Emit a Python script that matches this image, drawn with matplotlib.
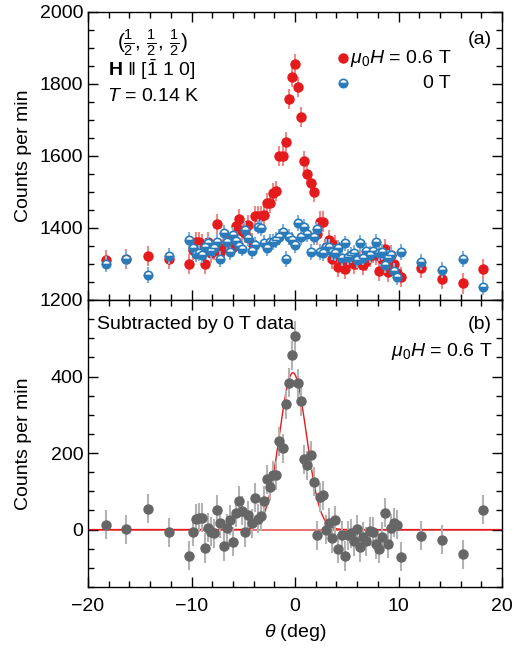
import numpy as np
import matplotlib
matplotlib.use('Agg')
import matplotlib.pyplot as plt
from matplotlib.ticker import MultipleLocator, FixedLocator

plt.rcParams['font.family'] = ['Liberation Sans', 'DejaVu Sans']
plt.rcParams['mathtext.fontset'] = 'custom'
plt.rcParams['mathtext.rm'] = 'Liberation Sans'
plt.rcParams['mathtext.it'] = 'Liberation Sans:italic'
plt.rcParams['mathtext.bf'] = 'Liberation Sans:bold'
plt.rcParams['font.size'] = 14

# scattering angle (deg)
theta = [-18.3, -16.3, -14.2, -12.2,
         -10.2, -9.9, -9.6, -9.3, -9.0, -8.7, -8.4, -8.1, -7.8, -7.5,
         -7.2, -6.9, -6.6, -6.3, -6.0, -5.7, -5.4, -5.1, -4.8, -4.5,
         -4.2, -3.9, -3.6, -3.3, -3.0, -2.7, -2.4, -2.1, -1.8, -1.5,
         -1.2, -0.9, -0.6, -0.3, 0.0, 0.3, 0.6, 0.9, 1.2, 1.5,
         1.8, 2.1, 2.4, 2.7, 3.0, 3.3, 3.6, 3.9, 4.2, 4.5,
         4.8, 5.1, 5.4, 5.7, 6.0, 6.3, 6.6, 6.9, 7.2, 7.5,
         7.8, 8.1, 8.4, 8.7, 9.0, 9.3, 9.6, 9.9, 10.2,
         12.2, 14.2, 16.2, 18.2]

# mu0H = 0.6 T
counts_06T = [1311, 1314, 1323, 1314,
              1299, 1339, 1360, 1362, 1356, 1299, 1362, 1331, 1339, 1411,
              1332, 1344, 1367, 1357, 1348, 1406, 1424, 1391, 1387, 1408,
              1357, 1434, 1434, 1434, 1436, 1470, 1470, 1498, 1503, 1600,
              1600, 1638, 1758, 1820, 1855, 1792, 1708, 1586, 1549, 1526,
              1500, 1382, 1418, 1418, 1348, 1367, 1313, 1353, 1291, 1300,
              1287, 1306, 1316, 1300, 1311, 1312, 1297, 1308, 1321, 1330,
              1324, 1281, 1313, 1341, 1278, 1325, 1299, 1276, 1263,
              1288, 1258, 1246, 1286]

# 0 T
counts_0T = [1299, 1313, 1269, 1322,
             1367, 1345, 1328, 1330, 1325, 1348, 1357, 1336, 1345, 1360,
             1313, 1387, 1362, 1333, 1381, 1364, 1350, 1343, 1394, 1371,
             1336, 1353, 1404, 1399, 1359, 1344, 1362, 1362, 1367, 1374,
             1388, 1314, 1376, 1367, 1353, 1413, 1376, 1404, 1383, 1334,
             1376, 1396, 1334, 1330, 1348, 1348, 1334, 1330, 1344, 1316,
             1357, 1320, 1325, 1331, 1311, 1359, 1318, 1337, 1325, 1337,
             1362, 1331, 1334, 1297, 1316, 1325, 1281, 1263, 1334,
             1306, 1283, 1314, 1235]

# 0.6 T minus 0 T
diff = [13, 1, 55, -7,
        -68, -6, 29, 31, 31, -48, 5, -6, -10, 52,
        17, -44, 4, 25, -32, 44, 75, 49, -7, 37,
        16, 83, 29, 35, 75, 131, 112, 142, 142, 231,
        213, 327, 384, 456, 506, 382, 335, 184, 168, 194,
        125, -15, 85, 90, 0, 18, -22, 24, -50, -15,
        -69, -15, -10, -30, 1, -46, -19, -31, -4, -6,
        -38, -50, -19, 44, -37, 4, 18, 13, -71,
        -16, -27, -65, 52]

err_06T = 28
err_0T = 22
err_diff = 38

# Gaussian fit of the subtracted data
fit_amp = 410
fit_center = -0.2
fit_sigma = 1.3

red = '#e41a1c'
blue = '#2b7bba'
gray = '#666666'

fig = plt.figure(figsize=(5.2, 6.5), dpi=100)
ax1 = fig.add_axes([88/520, 1-300/650, 414/520, 288/650])
ax2 = fig.add_axes([88/520, 1-587/650, 414/520, 287/650])

# (a) raw data
ax1.errorbar(theta, counts_06T, yerr=err_06T, fmt='none', ecolor='#f08a8a', elinewidth=1.5, zorder=2)
ax1.plot(theta, counts_06T, 'o', color=red, ms=6.5, mec=red, zorder=3)
ax1.errorbar(theta, counts_0T, yerr=err_0T, fmt='none', ecolor='#7fb2dd', elinewidth=1.5, zorder=4)
ax1.plot(theta, counts_0T, 'o', ms=6, fillstyle='bottom', mfc=blue, mfcalt='white',
         mec=blue, mew=1.2, zorder=5)

ax1.set_xlim(-20, 20)
ax1.set_ylim(1200, 2000)
ax1.yaxis.set_major_locator(MultipleLocator(200))
ax1.yaxis.set_minor_locator(MultipleLocator(50))
ax1.set_ylabel('Counts per min')
ax1.yaxis.set_label_coords(-0.135, 0.5)
ax1.tick_params(labelbottom=False)

ax1.text(0.07, 0.892, r'$(\frac{1}{2},\,\frac{1}{2},\,\frac{1}{2})$', transform=ax1.transAxes,
         ha='left', va='center', fontsize=15)
ax1.text(0.048, 0.799, r'$\mathbf{H}\ \|\ [\bar{1}\ 1\ 0]$', transform=ax1.transAxes,
         ha='left', va='center', fontsize=14)
ax1.text(0.046, 0.708, r'$T$ = 0.14 K', transform=ax1.transAxes,
         ha='left', va='center', fontsize=14)
ax1.text(0.976, 0.903, '(a)', transform=ax1.transAxes, ha='right', va='center', fontsize=14)

# legend drawn by hand so the labels line up on the right
ax1.plot([0.616], [0.840], 'o', color=red, ms=6.5, transform=ax1.transAxes, clip_on=False)
ax1.plot([0.616], [0.753], 'o', ms=6, fillstyle='bottom', mfc=blue, mfcalt='white',
         mec=blue, mew=1.2, transform=ax1.transAxes, clip_on=False)
ax1.text(0.877, 0.840, r'$\mu_0H$ = 0.6 T', transform=ax1.transAxes, ha='right', va='center', fontsize=14)
ax1.text(0.877, 0.753, '0 T', transform=ax1.transAxes, ha='right', va='center', fontsize=14)

# (b) subtracted data
xf = np.linspace(-20, 20, 800)
yf = fit_amp * np.exp(-(xf - fit_center)**2 / (2 * fit_sigma**2))
ax2.axhline(0, color='#e87070', lw=1.4, zorder=1)
ax2.plot(xf, yf, color=red, lw=1.0, zorder=2)
ax2.errorbar(theta, diff, yerr=err_diff, fmt='none', ecolor='#b3b3b3', elinewidth=1.5, zorder=3)
ax2.plot(theta, diff, 'o', color=gray, ms=6.5, zorder=4)

ax2.set_xlim(-20, 20)
ax2.set_ylim(-150, 600)
ax2.yaxis.set_major_locator(FixedLocator([0, 200, 400]))
ax2.yaxis.set_minor_locator(MultipleLocator(50))
ax2.set_ylabel('Counts per min')
ax2.yaxis.set_label_coords(-0.135, 0.5)
ax2.set_xlabel(r'$\theta$ (deg)')
ax2.xaxis.set_label_coords(0.5, -0.122)

ax2.text(0.022, 0.913, 'Subtracted by 0 T data', transform=ax2.transAxes, ha='left', va='center', fontsize=14)
ax2.text(0.976, 0.913, '(b)', transform=ax2.transAxes, ha='right', va='center', fontsize=14)
ax2.text(0.976, 0.819, r'$\mu_0H$ = 0.6 T', transform=ax2.transAxes, ha='right', va='center', fontsize=14)

for ax in (ax1, ax2):
    ax.xaxis.set_major_locator(MultipleLocator(10))
    ax.xaxis.set_minor_locator(MultipleLocator(2))
    ax.tick_params(which='both', direction='in', top=True, right=True, labelsize=14)
    ax.tick_params(which='major', length=7, width=1)
    ax.tick_params(which='minor', length=4, width=1)
    for s in ax.spines.values():
        s.set_linewidth(1)
ax2.tick_params(axis='x', pad=8)

fig.savefig('out.png', dpi=100)
